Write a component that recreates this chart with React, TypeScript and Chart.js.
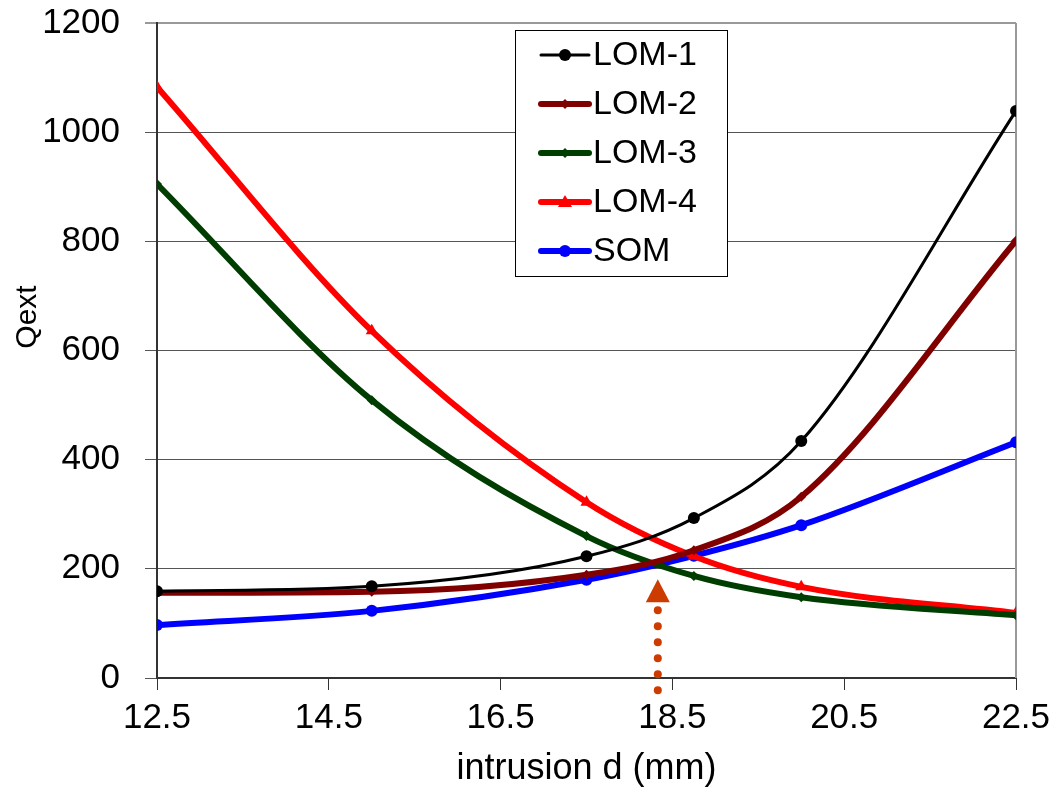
import React, { useEffect, useRef } from "react";
import { Chart, registerables } from "chart.js";

Chart.register(...registerables);

const xValues = [12.5, 15, 17.5, 18.75, 20, 22.5];
const xTicks = [12.5, 14.5, 16.5, 18.5, 20.5, 22.5];
const lom1 = [159, 168, 223, 293, 434, 1039];
const lom2 = [156, 158, 189, 234, 332, 801];
const lom3 = [905, 509, 260, 187, 148, 115];
const lom4 = [1083, 636, 322, 223, 167, 119];
const som = [97, 123, 180, 224, 280, 432];
const arrowX = 18.33;
const arrowTip = 181;
const arrowBase = 139;
const arrowTail = -23;
const yTitle = "Qext";

const FONT = "'Liberation Sans', Arial, sans-serif";
const W = 1052;
const H = 791;

const seriesDefs = [
  { label: "LOM-1", data: lom1, color: "#000000", width: 3, style: "circle", radius: 6 },
  { label: "LOM-2", data: lom2, color: "#800000", width: 6, style: "rectRot", radius: 5 },
  { label: "LOM-3", data: lom3, color: "#003d00", width: 6, style: "rectRot", radius: 5 },
  { label: "LOM-4", data: lom4, color: "#ff0000", width: 6, style: "triangle", radius: 7 },
  { label: "SOM", data: som, color: "#0000ff", width: 6, style: "circle", radius: 6 },
];

const framePlugin = {
  id: "frame",
  beforeDatasetsDraw(chart: any) {
    const ctx = chart.ctx;
    const a = chart.chartArea;
    ctx.save();
    ctx.strokeStyle = "#999";
    ctx.lineWidth = 2;
    ctx.beginPath();
    ctx.moveTo(a.right, a.top);
    ctx.lineTo(a.right, a.bottom);
    ctx.stroke();
    ctx.restore();
    // y title
    ctx.save();
    ctx.translate(28, 317);
    ctx.rotate(-Math.PI / 2);
    ctx.font = "30px " + FONT;
    ctx.fillStyle = "#000";
    ctx.textAlign = "center";
    ctx.textBaseline = "middle";
    ctx.fillText(yTitle, 0, 0);
    ctx.restore();
  },
};

const overlayPlugin = {
  id: "overlay",
  afterDatasetsDraw(chart: any) {
    const ctx = chart.ctx;
    const xs = chart.scales.x;
    const ys = chart.scales.y;
    // arrow
    const ax = xs.getPixelForValue(arrowX);
    const tipY = ys.getPixelForValue(arrowTip);
    const baseY = ys.getPixelForValue(arrowBase);
    const tailY = ys.getPixelForValue(arrowTail);
    ctx.save();
    ctx.fillStyle = "#cc3c00";
    ctx.beginPath();
    ctx.moveTo(ax, tipY);
    ctx.lineTo(ax - 12, baseY);
    ctx.lineTo(ax + 12, baseY);
    ctx.closePath();
    ctx.fill();
    for (let y = baseY + 8; y <= tailY + 1; y += 16) {
      ctx.beginPath();
      ctx.arc(ax, y, 4, 0, Math.PI * 2);
      ctx.fill();
    }
    ctx.restore();

    // legend box
    const bx = 515, by = 30, bw = 212, bh = 246;
    ctx.save();
    ctx.fillStyle = "#ffffff";
    ctx.fillRect(bx, by, bw, bh);
    ctx.strokeStyle = "#000000";
    ctx.lineWidth = 1;
    ctx.strokeRect(bx + 0.5, by + 0.5, bw, bh);
    ctx.font = "34px " + FONT;
    ctx.textBaseline = "middle";
    ctx.textAlign = "left";
    seriesDefs.forEach((s, i) => {
      const y = by + 25 + i * 49;
      ctx.strokeStyle = s.color;
      ctx.lineWidth = s.width;
      ctx.lineCap = "round";
      ctx.beginPath();
      ctx.moveTo(bx + 26, y);
      ctx.lineTo(bx + 74, y);
      ctx.stroke();
      ctx.fillStyle = s.color;
      const cx = bx + 50;
      ctx.beginPath();
      if (s.style === "circle") {
        ctx.arc(cx, y, s.radius, 0, Math.PI * 2);
      } else if (s.style === "triangle") {
        ctx.moveTo(cx, y - 7);
        ctx.lineTo(cx - 7, y + 5);
        ctx.lineTo(cx + 7, y + 5);
        ctx.closePath();
      } else {
        ctx.moveTo(cx, y - 5);
        ctx.lineTo(cx + 5, y);
        ctx.lineTo(cx, y + 5);
        ctx.lineTo(cx - 5, y);
        ctx.closePath();
      }
      ctx.fill();
      ctx.fillStyle = "#000000";
      ctx.fillText(s.label, bx + 78, y + 1);
    });
    ctx.restore();
  },
};

export default function App() {
  const ref = useRef<HTMLCanvasElement>(null);
  useEffect(() => {
    if (!ref.current) return;
    const chart = new Chart(ref.current, {
      type: "line",
      data: {
        datasets: seriesDefs.map((s) => ({
          label: s.label,
          data: xValues.map((x, i) => ({ x, y: s.data[i] })),
          borderColor: s.color,
          backgroundColor: s.color,
          borderWidth: s.width,
          pointStyle: s.style as any,
          pointRadius: s.radius,
          pointBorderWidth: 0,
          pointBackgroundColor: s.color,
          cubicInterpolationMode: "monotone" as any,
          tension: 0.4,
          fill: false,
        })),
      },
      options: {
        animation: false,
        responsive: false,
        maintainAspectRatio: false,
        layout: { padding: { left: 0, top: 23, right: W - 1016, bottom: 0 } },
        plugins: { legend: { display: false }, tooltip: { enabled: false } },
        scales: {
          x: {
            type: "linear",
            min: 12.5,
            max: 22.5,
            afterBuildTicks: (scale: any) => {
              scale.ticks = xTicks.map((v) => ({ value: v }));
            },
            afterFit: (scale: any) => {
              scale.height = H - 678;
              scale.paddingLeft = 0;
              scale.paddingRight = 0;
            },
            grid: { drawOnChartArea: false, drawTicks: true, tickLength: 12, color: "#333", lineWidth: 1 },
            border: { display: true, color: "#333", width: 2 },
            ticks: {
              color: "#000",
              font: { size: 35, family: FONT },
              padding: 7,
              callback: (v: any) => Number(v).toFixed(1),
              maxRotation: 0,
              autoSkip: false,
            },
            title: {
              display: true,
              text: "intrusion d (mm)",
              color: "#000",
              font: { size: 36, family: FONT },
              padding: { top: 0, bottom: 0 },
            },
          },
          y: {
            type: "linear",
            min: 0,
            max: 1200,
            afterFit: (scale: any) => {
              scale.width = 157;
              scale.paddingTop = 0;
              scale.paddingBottom = 0;
            },
            ticks: {
              stepSize: 200,
              color: "#000",
              font: { size: 35, family: FONT },
              padding: 25,
              callback: (v: any) => String(v),
            },
            grid: {
              color: (c: any) => (c.tick && c.tick.value === 1200 ? "#999" : "#555"),
              lineWidth: (c: any) => (c.tick && c.tick.value === 1200 ? 2 : 1),
              tickLength: 12,
              drawTicks: true,
            },
            border: { display: true, color: "#333", width: 2 },
            title: { display: false },
          },
        },
      },
      plugins: [framePlugin, overlayPlugin],
    });
    return () => chart.destroy();
  }, []);
  return (
    <div style={{ position: "fixed", left: 0, top: 0, width: W, height: H, background: "#fff" }}>
      <canvas ref={ref} width={W} height={H} style={{ width: W, height: H, display: "block" }} />
    </div>
  );
}
